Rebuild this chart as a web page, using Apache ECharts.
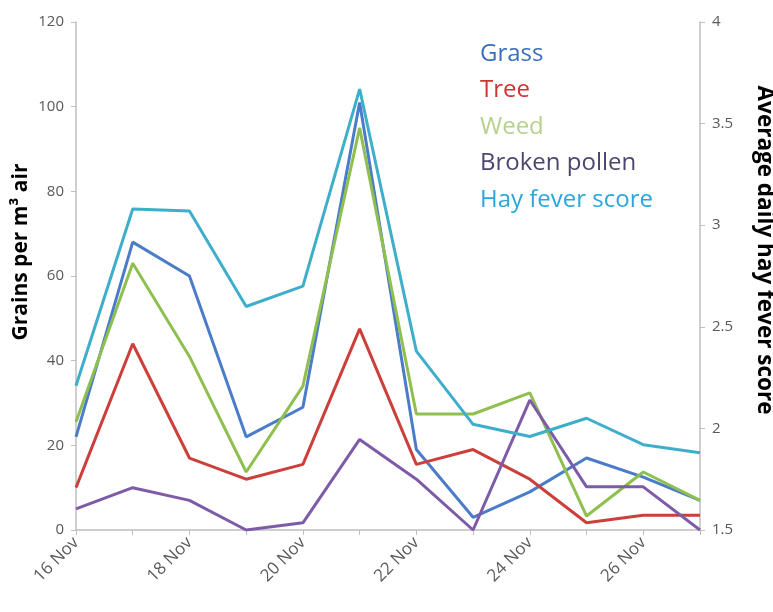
<!DOCTYPE html>
<html>
<head>
<meta charset="utf-8">
<script src="https://cdn.jsdelivr.net/npm/echarts@6/dist/echarts.min.js"></script>
<style>
  html, body { margin: 0; padding: 0; background: #fff; }
  #main { width: 773px; height: 612px; }
</style>
</head>
<body>
<div id="main"></div>
<script>
var days = ['16 Nov', '17 Nov', '18 Nov', '19 Nov', '20 Nov', '21 Nov',
            '22 Nov', '23 Nov', '24 Nov', '25 Nov', '26 Nov', '27 Nov'];
// grains per m3 air
var grass  = [22, 68, 60, 22, 29, 101, 19, 3, 9, 17, 12.5, 7];
var tree   = [10, 44, 17, 12, 15.5, 47.5, 15.5, 19, 12, 1.7, 3.5, 3.5];
var weed   = [25.5, 63, 41, 13.7, 34, 95, 27.4, 27.4, 32.4, 3.3, 13.7, 7];
var broken = [5, 10, 7, 0, 1.7, 21.4, 12, 0, 30.7, 10.2, 10.2, 0];
// average daily hay fever score (right axis)
var hayFever = [2.21, 3.08, 3.07, 2.6, 2.7, 3.67, 2.38, 2.02, 1.96, 2.05, 1.92, 1.88];

var leftTicks = [0, 120, 20];
var rightTicks = [1.5, 4, 0.5];

var chart = echarts.init(document.getElementById('main'));

var axisGrey = '#bfbfbf';
var labelGrey = '#595959';
var fontFam = '"Open Sans", Lato, sans-serif';

function lineSeries(name, data, color, axis) {
  return {
    name: name,
    type: 'line',
    yAxisIndex: axis,
    data: data,
    symbol: 'none',
    lineStyle: { color: color, width: 3 },
    itemStyle: { color: color }
  };
}

chart.setOption({
  animation: false,
  textStyle: { fontFamily: fontFam },
  grid: { left: 76, right: 73, top: 22, bottom: 82, outerBoundsMode: 'none' },
  legend: {
    orient: 'vertical',
    left: 470,
    top: 35,
    icon: 'none',
    itemWidth: 0,
    itemHeight: 28,
    itemGap: 8.5,
    textStyle: { fontSize: 24, lineHeight: 28, fontFamily: fontFam },
    data: [
      { name: 'Grass', textStyle: { color: '#3a6fc0' } },
      { name: 'Tree', textStyle: { color: '#d0342e' } },
      { name: 'Weed', textStyle: { color: '#b5d28c' } },
      { name: 'Broken pollen', textStyle: { color: '#4d4770' } },
      { name: 'Hay fever score', textStyle: { color: '#2aa6dc' } }
    ]
  },
  xAxis: {
    type: 'category',
    data: days,
    boundaryGap: false,
    axisLine: { lineStyle: { color: axisGrey, width: 1.5 } },
    axisTick: { interval: 0, length: 5, lineStyle: { color: axisGrey } },
    axisLabel: { interval: 1, rotate: 45, fontSize: 17, color: labelGrey, margin: 10 },
    splitLine: { show: false }
  },
  yAxis: [{
    type: 'value',
    min: leftTicks[0], max: leftTicks[1], interval: leftTicks[2],
    name: 'Grains per m\u00b3 air',
    nameLocation: 'middle',
    nameGap: 44,
    nameMoveOverlap: false,
    nameTextStyle: { fontSize: 21, fontWeight: 'bold', color: '#000', padding: [0, 0, 0, 48] },
    axisLine: { show: true, lineStyle: { color: axisGrey, width: 1.5 } },
    axisTick: { show: true, length: 5, lineStyle: { color: axisGrey } },
    axisLabel: { fontSize: 15, color: labelGrey, margin: 12 },
    splitLine: { show: false }
  }, {
    type: 'value',
    position: 'right',
    min: rightTicks[0], max: rightTicks[1], interval: rightTicks[2],
    name: 'Average daily hay fever score',
    nameLocation: 'middle',
    nameRotate: -90,
    nameGap: 53,
    nameMoveOverlap: false,
    nameTextStyle: { fontSize: 22.5, fontWeight: 'bold', color: '#000', padding: [0, 52, 0, 0] },
    axisLine: { show: true, lineStyle: { color: axisGrey, width: 1.5 } },
    axisTick: { show: true, length: 5, lineStyle: { color: axisGrey } },
    axisLabel: { fontSize: 15, color: labelGrey, margin: 12 },
    splitLine: { show: false }
  }],
  series: [
    lineSeries('Grass', grass, '#4a7cc9', 0),
    lineSeries('Tree', tree, '#cc3f3a', 0),
    lineSeries('Weed', weed, '#8fbf4f', 0),
    lineSeries('Broken pollen', broken, '#7d5ba6', 0),
    lineSeries('Hay fever score', hayFever, '#3eaecb', 1)
  ]
});
</script>
</body>
</html>
